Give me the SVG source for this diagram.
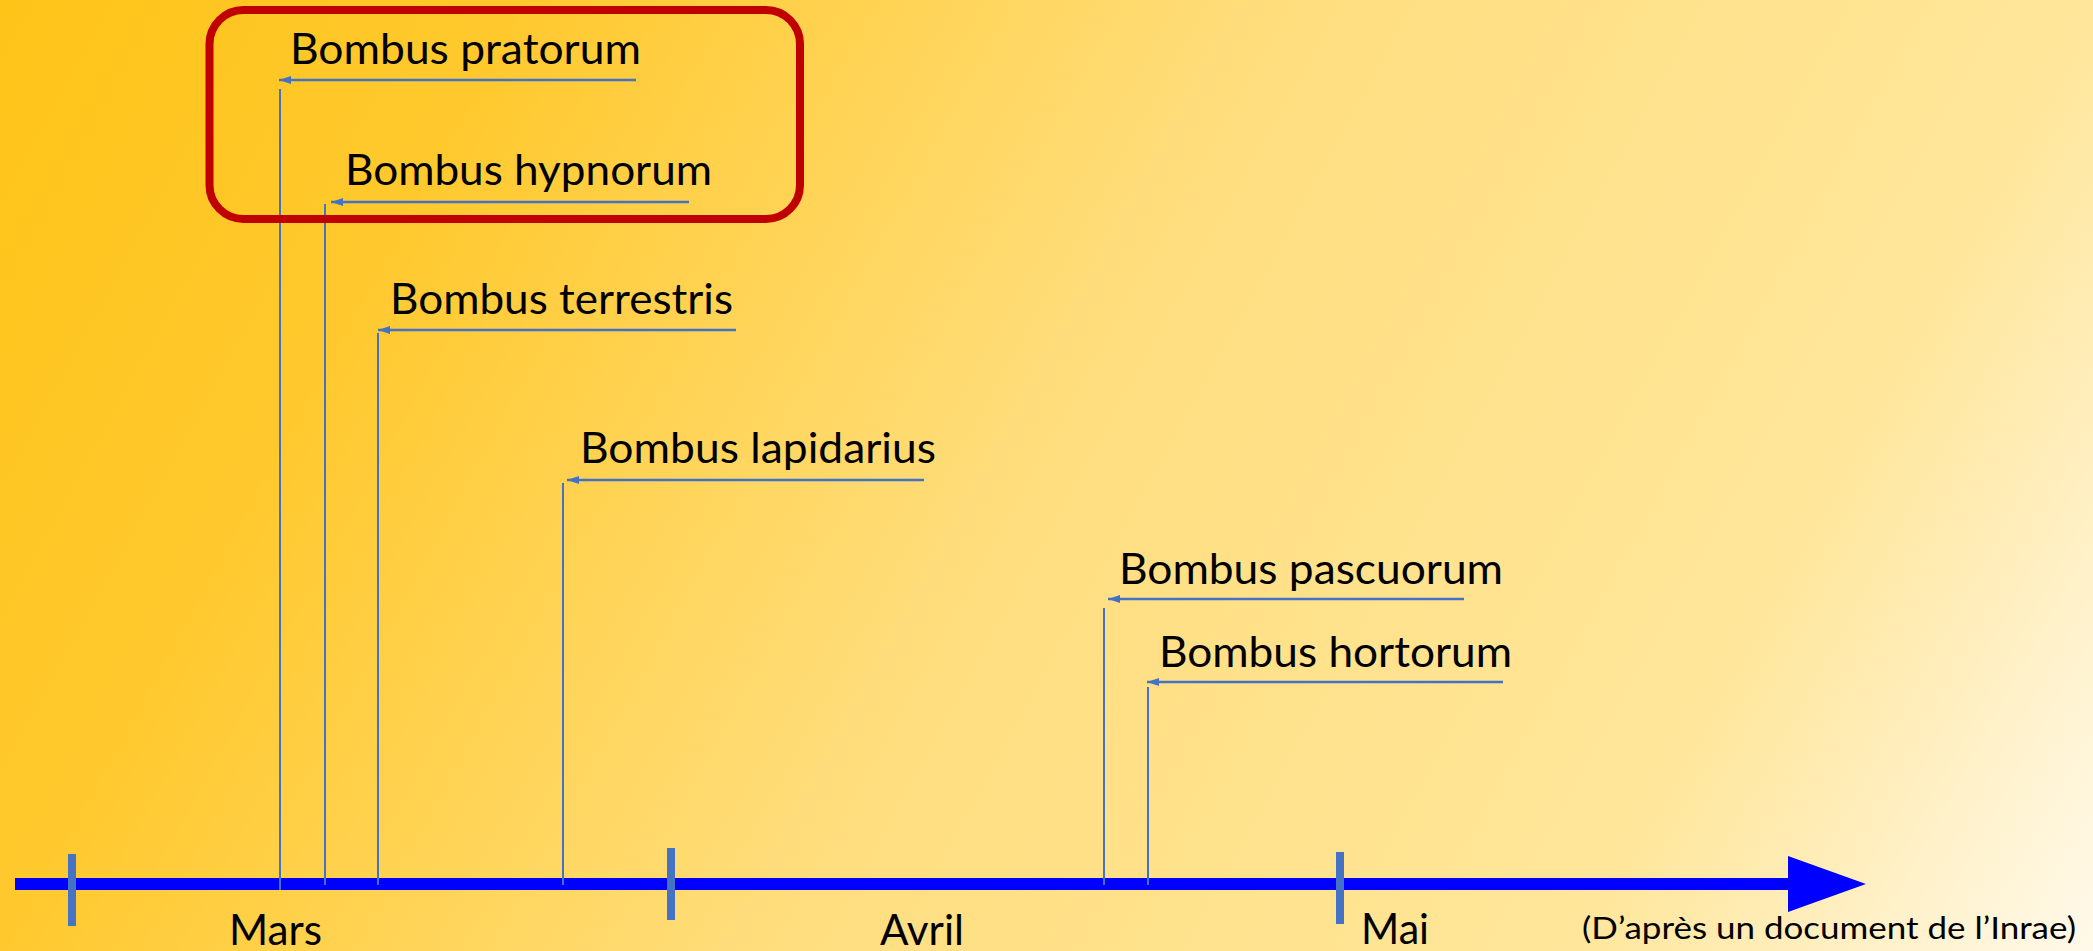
<svg xmlns="http://www.w3.org/2000/svg" width="2093" height="951" viewBox="0 0 2093 951">
  <defs>
    <linearGradient id="bg" gradientUnits="userSpaceOnUse" x1="0" y1="0" x2="2008" y2="1105">
      <stop offset="0" stop-color="#FFC418"/>
      <stop offset="0.2" stop-color="#FFC92E"/>
      <stop offset="0.5" stop-color="#FFDE7F"/>
      <stop offset="0.8" stop-color="#FFE69A"/>
      <stop offset="1" stop-color="#FFF9EA"/>
    </linearGradient>
    <marker id="ah" markerUnits="userSpaceOnUse" markerWidth="13" markerHeight="8" refX="12" refY="4" orient="auto">
      <path d="M0,0 L12,4 L0,8 z" fill="#4472C4"/>
    </marker>
  </defs>
  <style>
    .lbl { font-family: Lato, "Open Sans", "Liberation Sans", sans-serif; font-size: 43px; fill: #000; }
    .src { font-family: Lato, "Open Sans", "Liberation Sans", sans-serif; font-size: 31px; fill: #000; }
    .arr { stroke: #4472C4; stroke-width: 2.5; fill: none; marker-end: url(#ah); }
    .vl { stroke: #4472C4; stroke-width: 2; fill: none; }
    .tick { fill: #4472C4; }
  </style>
  <rect x="0" y="0" width="2093" height="951" fill="url(#bg)"/>

  <g id="axis">
    <rect x="15" y="878" width="1773" height="12" fill="#0000FF"/>
    <polygon points="1788,856 1866,884 1788,912" fill="#0000FF"/>
  </g>

  <g id="connectors">
    <line class="arr" x1="636" y1="80" x2="279" y2="80"/>
    <line class="vl" x1="280" y1="89" x2="280" y2="890"/>
    <line class="arr" x1="689" y1="202" x2="331" y2="202"/>
    <line class="vl" x1="325" y1="204" x2="325" y2="885"/>
    <line class="arr" x1="736" y1="330" x2="378" y2="330"/>
    <line class="vl" x1="378" y1="333" x2="378" y2="885"/>
    <line class="arr" x1="924" y1="480" x2="567" y2="480"/>
    <line class="vl" x1="563" y1="483" x2="563" y2="885"/>
    <line class="arr" x1="1464" y1="599" x2="1108" y2="599"/>
    <line class="vl" x1="1104" y1="608" x2="1104" y2="885"/>
    <line class="arr" x1="1503" y1="682" x2="1147" y2="682"/>
    <line class="vl" x1="1148" y1="687" x2="1148" y2="885"/>
  </g>

  <g id="ticks">
    <rect class="tick" x="68" y="854" width="8" height="72"/>
    <rect class="tick" x="667" y="848" width="8" height="72"/>
    <rect class="tick" x="1336" y="852" width="8" height="72"/>
  </g>

  <g id="highlight">
    <rect x="209.5" y="10" width="590.5" height="209" rx="34" ry="34" fill="none" stroke="#C00000" stroke-width="8"/>
  </g>

  <g id="pratorum"><text class="lbl" x="290" y="64" textLength="351" lengthAdjust="spacingAndGlyphs">Bombus pratorum</text></g>
  <g id="hypnorum"><text class="lbl" x="345" y="185" textLength="367" lengthAdjust="spacingAndGlyphs">Bombus hypnorum</text></g>
  <g id="terrestris"><text class="lbl" x="390" y="314" textLength="343" lengthAdjust="spacingAndGlyphs">Bombus terrestris</text></g>
  <g id="lapidarius"><text class="lbl" x="580" y="463" textLength="356" lengthAdjust="spacingAndGlyphs">Bombus lapidarius</text></g>
  <g id="pascuorum"><text class="lbl" x="1119" y="584" textLength="384" lengthAdjust="spacingAndGlyphs">Bombus pascuorum</text></g>
  <g id="hortorum"><text class="lbl" x="1159" y="667" textLength="353" lengthAdjust="spacingAndGlyphs">Bombus hortorum</text></g>

  <g id="mars"><text class="lbl" x="229" y="945" textLength="93" lengthAdjust="spacingAndGlyphs">Mars</text></g>
  <g id="avril"><text class="lbl" x="880" y="945" textLength="84" lengthAdjust="spacingAndGlyphs">Avril</text></g>
  <g id="mai"><text class="lbl" x="1361" y="944" textLength="68" lengthAdjust="spacingAndGlyphs">Mai</text></g>
  <g id="source"><text class="src" x="1582" y="939" textLength="494" lengthAdjust="spacingAndGlyphs">(D’après un document de l’Inrae)</text></g>
</svg>
